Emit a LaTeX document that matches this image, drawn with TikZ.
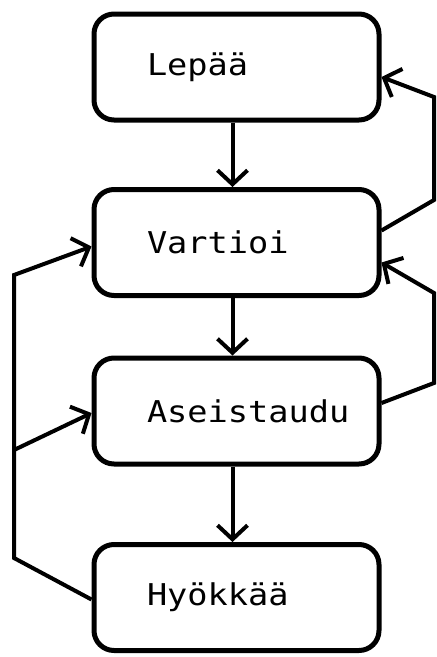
\documentclass[tikz,border=0pt]{standalone}
\usepackage{fontspec}
\newfontfamily\monofnt[FakeStretch=1.12]{DejaVu Sans Mono}
\usetikzlibrary{arrows.meta,calc}
\begin{document}
\begin{tikzpicture}[x=1pt,y=-1pt,
  box/.style={draw, line width=5pt, rounded corners=20pt, minimum width=285pt,
    minimum height=106pt, inner sep=0pt, font=\monofnt\fontsize{30}{36}\selectfont},
  conn/.style={line width=4pt, line join=miter},
  arr/.style={conn, -{Straight Barb[length=14pt,width=30pt]}}]
\useasboundingbox (0,0) rectangle (437,657);
\node[box] (l) at (236.5,67) {\makebox[179pt][l]{Lepää}};
\node[box] (v) at (236.5,242.5) {\makebox[179pt][l]{Vartioi}};
\node[box] (a) at (236.5,411) {\makebox[179pt][l]{Aseistaudu}};
\node[box] (h) at (236.5,597.5) {\makebox[179pt][l]{Hyökkää}};
% vertical flow
\draw[arr] ($(l.south)+(-4,0)$) -- ($(v.north)+(-4,0)$);
\draw[arr] ($(v.south)+(-4,0)$) -- ($(a.north)+(-4,0)$);
\draw[arr] ($(a.south)+(-4,0)$) -- ($(h.north)+(-4,0)$);
% right loops
\coordinate (r1b) at (434,200);
\coordinate (r1t) at (434,97);
\draw[arr] ($(v.east)+(0,-12)$) -- (r1b) -- (r1t) -- ($(l.east)+(0,10)$);
\coordinate (r2b) at (434,383);
\coordinate (r2t) at (434,293);
\draw[arr] ($(a.east)+(0,-8)$) -- (r2b) -- (r2t) -- ($(v.east)+(0,20)$);
% left loop
\coordinate (lb) at (14,558);
\coordinate (lt) at (14,275);
\coordinate (lm) at (14,450);
\draw[arr] ($(h.west)+(0,2)$) -- (lb) -- (lt) -- ($(v.west)+(0,4)$);
\draw[arr] (lm) -- ($(a.west)+(0,2)$);
\end{tikzpicture}
\end{document}
